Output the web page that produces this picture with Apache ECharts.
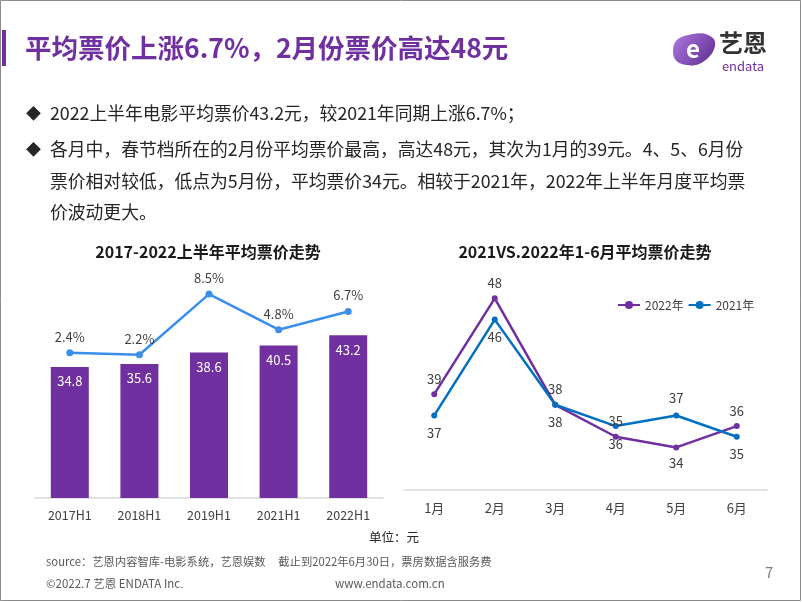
<!DOCTYPE html>
<html>
<head>
<meta charset="utf-8">
<script src="https://cdn.jsdelivr.net/npm/echarts@6/dist/echarts.min.js"></script>
<style>
html,body{margin:0;padding:0;background:#fff;}
#c{width:802px;height:602px;}
</style>
</head>
<body>
<div id="c"></div>
<script>
// ---- data ----
var halfYears = ['2017H1', '2018H1', '2019H1', '2021H1', '2022H1'];
var avgPrice = [34.8, 35.6, 38.6, 40.5, 43.2];
var growthPct = [2.4, 2.2, 8.5, 4.8, 6.7];

var months = ['1月', '2月', '3月', '4月', '5月', '6月'];
var price2022 = [39, 48, 38, 35, 34, 36];
var price2021 = [37, 46, 38, 36, 37, 35];

var FONT = '"Noto Sans CJK SC", "Noto Sans", sans-serif';
var PURPLE = '#7030A0';
var BLUE = '#0070C0';
var LBLUE = '#3A8FEA';
var TXT = '#404040';

var chart = echarts.init(document.getElementById('c'), null, {renderer: 'canvas'});

function withPos(arr, flipIdx, pos) {
  return arr.map(function (v, i) {
    return flipIdx.indexOf(i) >= 0 ? {value: v, label: {position: pos}} : v;
  });
}

var option = {
  animation: false,
  textStyle: {fontFamily: FONT},
  legend: {
    data: ['2022年', '2021年'],
    left: 612, top: 294,
    itemWidth: 22, itemHeight: 10, itemGap: 4,
    textStyle: {fontSize: 12, color: TXT, fontFamily: FONT}
  },
  grid: [
    {left: 35, width: 348, top: 272, height: 226},
    {left: 404, width: 363, top: 277, height: 213}
  ],
  xAxis: [
    {
      type: 'category', gridIndex: 0, data: halfYears,
      axisLine: {lineStyle: {color: '#d9d9d9', width: 1.5}},
      axisTick: {show: false},
      axisLabel: {color: TXT, fontSize: 12.5, margin: 11, fontFamily: FONT}
    },
    {
      type: 'category', gridIndex: 1, data: months,
      axisLine: {lineStyle: {color: '#d9d9d9', width: 1.5}},
      axisTick: {show: false},
      axisLabel: {color: TXT, fontSize: 13, margin: 12, fontFamily: FONT}
    }
  ],
  yAxis: [
    {type: 'value', gridIndex: 0, min: 0, max: 60, show: false, splitLine: {show: false}},
    {type: 'value', gridIndex: 0, min: -12.7, max: 10.8, show: false, splitLine: {show: false}},
    {type: 'value', gridIndex: 1, min: 30, max: 50, show: false, splitLine: {show: false}}
  ],
  series: [
    {
      type: 'bar', xAxisIndex: 0, yAxisIndex: 0, data: avgPrice,
      barWidth: 38,
      itemStyle: {color: PURPLE},
      label: {show: true, position: 'insideTop', distance: 8, color: '#fff', fontSize: 13, fontFamily: FONT}
    },
    {
      type: 'line', xAxisIndex: 0, yAxisIndex: 1, data: growthPct,
      symbol: 'circle', symbolSize: 7,
      lineStyle: {color: LBLUE, width: 2.5},
      itemStyle: {color: LBLUE},
      label: {show: true, position: 'top', distance: 6, color: TXT, fontSize: 13, fontFamily: FONT,
        formatter: function (p) { return p.value + '%'; }}
    },
    {
      name: '2022年', type: 'line', xAxisIndex: 1, yAxisIndex: 2,
      data: withPos(price2022, [4], 'bottom'),
      symbol: 'circle', symbolSize: 6,
      lineStyle: {color: PURPLE, width: 2.5},
      itemStyle: {color: PURPLE},
      label: {show: true, position: 'top', distance: 6, color: TXT, fontSize: 13, fontFamily: FONT}
    },
    {
      name: '2021年', type: 'line', xAxisIndex: 1, yAxisIndex: 2,
      data: withPos(price2021, [4], 'top'),
      symbol: 'circle', symbolSize: 6,
      lineStyle: {color: BLUE, width: 2.5},
      itemStyle: {color: BLUE},
      label: {show: true, position: 'bottom', distance: 8, color: TXT, fontSize: 13, fontFamily: FONT}
    }
  ],
  graphic: [
    // border
    {type: 'rect', shape: {x: 0.5, y: 0.5, width: 800, height: 600}, style: {fill: 'none', stroke: '#8c8c8c', lineWidth: 1}, silent: true},
    // title accent bar
    {type: 'rect', shape: {x: 2, y: 30, width: 4, height: 36}, style: {fill: PURPLE}},
    {type: 'text', x: 25, y: 48, style: {text: '平均票价上涨6.7%，2月份票价高达48元', fill: PURPLE, font: 'bold 26.5px ' + FONT, verticalAlign: 'middle'}},
    // logo
    {type: 'polygon', shape: {smooth: 0.5, points: [[673, 50], [684, 36], [713, 38], [707, 59], [682, 64]]},
      style: {fill: {type: 'linear', x: 0, y: 0, x2: 1, y2: 1, colorStops: [{offset: 0, color: '#b07ae0'}, {offset: 1, color: '#5b2a8e'}]}}},
    {type: 'text', x: 693, y: 49, style: {text: 'e', fill: '#fff', font: 'bold 24px ' + FONT, align: 'center', verticalAlign: 'middle'}},
    {type: 'text', x: 743, y: 43, style: {text: '艺恩', fill: '#333', font: 'bold 24px ' + FONT, align: 'center', verticalAlign: 'middle'}},
    {type: 'text', x: 743, y: 66, style: {text: 'endata', fill: PURPLE, font: '13px ' + FONT, align: 'center', verticalAlign: 'middle'}},
    // bullets
    {type: 'text', x: 26, y: 113, style: {text: '◆', fill: '#262626', font: '15px ' + FONT, verticalAlign: 'middle'}},
    {type: 'text', x: 50, y: 113, style: {text: '2022上半年电影平均票价43.2元，较2021年同期上涨6.7%；', fill: '#262626', font: '17.8px ' + FONT, verticalAlign: 'middle'}},
    {type: 'text', x: 26, y: 149, style: {text: '◆', fill: '#262626', font: '15px ' + FONT, verticalAlign: 'middle'}},
    {type: 'text', x: 50, y: 149, style: {text: '各月中，春节档所在的2月份平均票价最高，高达48元，其次为1月的39元。4、5、6月份', fill: '#262626', font: '17.8px ' + FONT, verticalAlign: 'middle'}},
    {type: 'text', x: 50, y: 181, style: {text: '票价相对较低，低点为5月份，平均票价34元。相较于2021年，2022年上半年月度平均票', fill: '#262626', font: '17.8px ' + FONT, verticalAlign: 'middle'}},
    {type: 'text', x: 50, y: 212, style: {text: '价波动更大。', fill: '#262626', font: '17.8px ' + FONT, verticalAlign: 'middle'}},
    // chart titles
    {type: 'text', x: 208, y: 252, style: {text: '2017-2022上半年平均票价走势', fill: '#1a1a1a', font: 'bold 16px ' + FONT, align: 'center', verticalAlign: 'middle'}},
    {type: 'text', x: 585, y: 252, style: {text: '2021VS.2022年1-6月平均票价走势', fill: '#1a1a1a', font: 'bold 16px ' + FONT, align: 'center', verticalAlign: 'middle'}},
    // footer
    {type: 'text', x: 394, y: 537, style: {text: '单位：元', fill: '#262626', font: '12.5px ' + FONT, align: 'center', verticalAlign: 'middle'}},
    {type: 'text', x: 46, y: 562, style: {text: 'source：艺恩内容智库-电影系统，艺恩娱数     截止到2022年6月30日，票房数据含服务费', fill: '#595959', font: '11.3px ' + FONT, verticalAlign: 'middle'}},
    {type: 'text', x: 46, y: 584, style: {text: '©2022.7 艺恩 ENDATA Inc.', fill: '#595959', font: '11.5px ' + FONT, verticalAlign: 'middle'}},
    {type: 'text', x: 335, y: 584, style: {text: 'www.endata.com.cn', fill: '#595959', font: '11.5px ' + FONT, verticalAlign: 'middle'}},
    {type: 'text', x: 765, y: 572, style: {text: '7', fill: '#808080', font: '15px ' + FONT, verticalAlign: 'middle'}}
  ]
};
chart.setOption(option);
</script>
</body>
</html>
